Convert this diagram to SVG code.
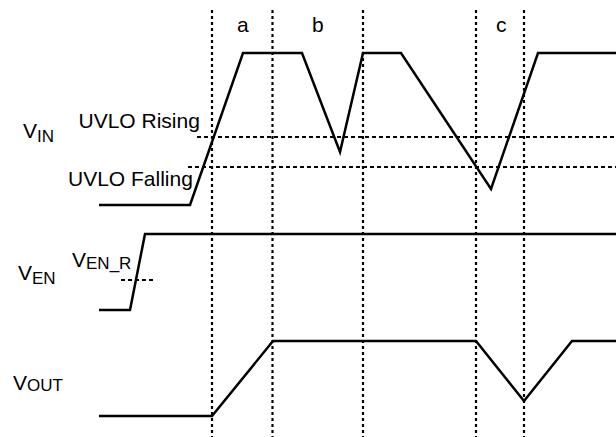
<svg xmlns="http://www.w3.org/2000/svg" width="616" height="437" viewBox="0 0 616 437">
<style>
.w{fill:none;stroke:#000;stroke-width:2.5;stroke-linejoin:miter}
.dv{fill:none;stroke:#000;stroke-width:2.2;stroke-dasharray:3 3}
.dh{fill:none;stroke:#000;stroke-width:2;stroke-dasharray:4 3}
.t{font-family:"Liberation Sans",Arial,sans-serif;font-size:21px;fill:#000}
.s{font-size:17px}
</style>
<rect width="616" height="437" fill="#fff"/>
<g id="guides">
<line class="dv" x1="212" y1="10" x2="212" y2="437"/>
<line class="dv" x1="272.5" y1="10" x2="272.5" y2="437"/>
<line class="dv" x1="363" y1="10" x2="363" y2="437"/>
<line class="dv" x1="476" y1="10" x2="476" y2="437"/>
<line class="dv" x1="524" y1="10" x2="524" y2="437"/>
<line class="dh" x1="197" y1="137" x2="616" y2="137"/>
<line class="dh" x1="188" y1="167" x2="616" y2="167"/>
<line class="dh" x1="121" y1="280" x2="153" y2="280"/>
</g>
<g id="vin">
<polyline class="w" points="99,205 190,205 243,53 302,53 340,152 363,53 401,53 491,189 538,53 616,53"/>
<text class="t" x="23" y="138" font-size="21">V<tspan class="s" font-size="17" dy="4">IN</tspan></text>
<text class="t" x="78.5" y="128" font-size="21">UVLO Rising</text>
<text class="t" x="68" y="186" font-size="21">UVLO Falling</text>
</g>
<g id="ven">
<polyline class="w" points="99,310 130,310 145,234 616,234"/>
<text class="t" x="18" y="280" font-size="21">V<tspan class="s" font-size="17" dy="4">EN</tspan></text>
<text class="t" x="72" y="267" font-size="21">V<tspan class="s" font-size="17" dy="2">EN_R</tspan></text>
</g>
<g id="vout">
<polyline class="w" points="99,416 212,416 273,341 476,341 524,401 572,341 616,341"/>
<text class="t" x="13" y="390" font-size="21">V<tspan class="s" font-size="17" dy="1">OUT</tspan></text>
</g>
<g id="labels">
<text class="t" x="237" y="32" font-size="21">a</text>
<text class="t" x="312" y="32" font-size="21">b</text>
<text class="t" x="496" y="32" font-size="21">c</text>
</g>
</svg>
